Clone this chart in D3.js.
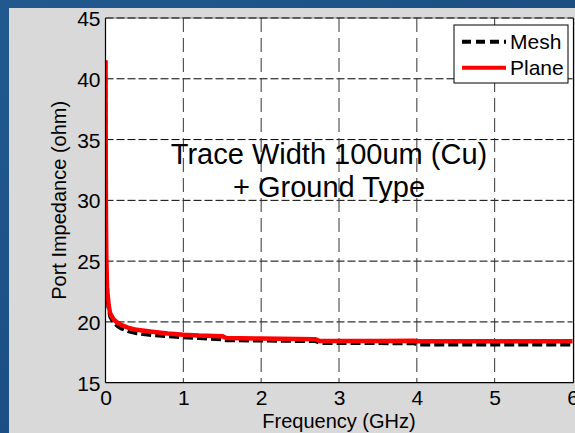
<!DOCTYPE html>
<html>
<head>
<meta charset="utf-8">
<script src="https://cdn.jsdelivr.net/npm/d3@7"></script>
<style>
  html, body { margin: 0; padding: 0; background: #1d5287; }
  svg { display: block; }
  text { font-family: "Liberation Sans", Arial, sans-serif; fill: #000; }
</style>
</head>
<body>
<svg id="chart" width="575" height="433"></svg>
<script>
// Port impedance vs frequency for two ground types
const freqMesh  = [0, 0.003, 0.006, 0.01, 0.02, 0.04, 0.06, 0.1, 0.15, 0.2, 0.3, 0.4, 0.6, 0.8, 1.0, 1.2, 1.5, 1.55, 2.0, 2.7, 2.75, 3.5, 3.97, 4.0, 5.0, 6.0];
const meshZ     = [41.5, 32, 27.5, 24.5, 22.0, 21.0, 20.4, 19.95, 19.65, 19.45, 19.2, 19.05, 18.9, 18.8, 18.72, 18.65, 18.55, 18.48, 18.45, 18.4, 18.25, 18.24, 18.22, 18.12, 18.12, 18.12];
const freqPlane = [0, 0.003, 0.006, 0.01, 0.02, 0.04, 0.06, 0.1, 0.15, 0.2, 0.3, 0.4, 0.6, 0.8, 1.0, 1.2, 1.5, 1.55, 2.0, 2.7, 2.75, 3.5, 3.97, 4.0, 5.0, 6.0];
const planeZ    = [41.5, 33, 28.5, 25.5, 22.8, 21.4, 20.7, 20.25, 19.95, 19.75, 19.5, 19.35, 19.2, 19.05, 18.95, 18.88, 18.83, 18.68, 18.63, 18.57, 18.43, 18.43, 18.45, 18.4, 18.4, 18.4];
const xTicks = [0, 1, 2, 3, 4, 5, 6];
const yTicks = [15, 20, 25, 30, 35, 40, 45];
const legendNames = ["Mesh", "Plane"];
const noteLines = ["Trace Width 100um (Cu)", "+ Ground Type"];

const svg = d3.select("#chart");
const W = 575, H = 433;

// textured blue backdrop
const defs = svg.append("defs");
const bg = defs.append("linearGradient").attr("id", "bg").attr("x1", 0).attr("y1", 0).attr("x2", 1).attr("y2", 1);
bg.append("stop").attr("offset", "0%").attr("stop-color", "#21598f");
bg.append("stop").attr("offset", "50%").attr("stop-color", "#1b4f84");
bg.append("stop").attr("offset", "100%").attr("stop-color", "#163f6e");
svg.append("rect").attr("width", W).attr("height", H).attr("fill", "url(#bg)");

// figure panel
svg.append("rect").attr("x", 9).attr("y", 8).attr("width", W - 9).attr("height", H - 8).attr("fill", "#d9d9d9");

const x = d3.scaleLinear().domain([0, 6]).range([105.5, 572.5]);
const y = d3.scaleLinear().domain([15, 45]).range([382.7, 18]);
const [x0, x1] = x.range();
const [yb, yt] = y.range();

// plot area
svg.append("rect").attr("x", x0).attr("y", yt).attr("width", x1 - x0 + 1).attr("height", yb - yt).attr("fill", "#fff");

defs.append("clipPath").attr("id", "plotClip")
  .append("rect").attr("x", x0).attr("y", yt).attr("width", x1 - x0 + 1).attr("height", yb - yt);

// dashed grid
const grid = svg.append("g");
grid.selectAll("line.h").data(yTicks.filter(v => v > 15 && v < 45)).join("line")
  .attr("x1", x0).attr("x2", x1).attr("y1", d => y(d)).attr("y2", d => y(d))
  .attr("stroke", "#000").attr("stroke-width", 1).attr("stroke-dasharray", "8,3");
grid.selectAll("line.v").data(xTicks.filter(v => v > 0 && v < 6)).join("line")
  .attr("x1", d => x(d)).attr("x2", d => x(d)).attr("y1", yt).attr("y2", yb)
  .attr("stroke", "#333").attr("stroke-width", 1).attr("stroke-dasharray", "14,6");

// curves
const line = d3.line().x(d => x(d[0])).y(d => y(d[1]));
const plot = svg.append("g").attr("clip-path", "url(#plotClip)");
plot.append("path").datum(freqMesh.map((f, i) => [f, meshZ[i]]))
  .attr("d", line).attr("fill", "none").attr("stroke", "#000")
  .attr("stroke-width", 3.5).attr("stroke-dasharray", "10,4");
plot.append("path").datum(freqPlane.map((f, i) => [f, planeZ[i]]))
  .attr("d", line).attr("fill", "none").attr("stroke", "#ff0000")
  .attr("stroke-width", 4.5).attr("stroke-linejoin", "round");

// axes box
const box = svg.append("g").attr("fill", "none").attr("stroke", "#000").attr("stroke-width", 1.2);
box.append("line").attr("x1", x0).attr("x2", x0).attr("y1", yt).attr("y2", yb);
box.append("line").attr("x1", x0).attr("x2", x1 + 1).attr("y1", yb).attr("y2", yb);
box.append("line").attr("x1", x1 + 1).attr("x2", x1 + 1).attr("y1", yt).attr("y2", yb);
svg.append("line").attr("x1", x0).attr("x2", x1 + 1).attr("y1", yt).attr("y2", yt)
  .attr("stroke", "#888").attr("stroke-width", 1);
svg.append("line").attr("x1", x0).attr("x2", x1 + 1).attr("y1", yt).attr("y2", yt)
  .attr("stroke", "#000").attr("stroke-width", 1).attr("stroke-dasharray", "8,3");

// tick labels via d3 axes
const xAxis = d3.axisBottom(x).tickValues(xTicks).tickFormat(d3.format("d")).tickSize(0).tickPadding(7);
const yAxis = d3.axisLeft(y).tickValues(yTicks).tickFormat(d3.format("d")).tickSize(0).tickPadding(5);
const gx = svg.append("g").attr("transform", `translate(0,${yb})`).call(xAxis);
const gy = svg.append("g").attr("transform", `translate(${x0},0)`).call(yAxis);
[gx, gy].forEach(g => {
  g.select(".domain").remove();
  g.selectAll("text").attr("font-family", "Liberation Sans, Arial, sans-serif").attr("font-size", 21).attr("fill", "#000");
});
gy.selectAll("text").attr("dy", "0.36em");

// axis titles
svg.append("text").attr("x", (x0 + x1) / 2).attr("y", 428).attr("text-anchor", "middle")
  .attr("font-size", 20).text("Frequency (GHz)");
svg.append("text").attr("transform", `translate(66,${(yt + yb) / 2}) rotate(-90)`)
  .attr("text-anchor", "middle").attr("font-size", 20).text("Port Impedance (ohm)");

// annotation
svg.append("g").selectAll("text").data(noteLines).join("text")
  .attr("x", 329).attr("y", (d, i) => 164 + i * 33).attr("text-anchor", "middle")
  .attr("font-size", 29).text(d => d);

// legend
const lg = svg.append("g");
lg.append("rect").attr("x", 454).attr("y", 25).attr("width", 114).attr("height", 58)
  .attr("fill", "#fff").attr("stroke", "#000").attr("stroke-width", 1);
const legendStyles = [
  { color: "#000", dash: "9,5", width: 4 },
  { color: "#ff0000", dash: null, width: 4 }
];
legendNames.forEach((name, i) => {
  const cy = 41.7 + i * 26;
  lg.append("line").attr("x1", 462).attr("x2", 506).attr("y1", cy).attr("y2", cy)
    .attr("stroke", legendStyles[i].color).attr("stroke-width", legendStyles[i].width)
    .attr("stroke-dasharray", legendStyles[i].dash);
  lg.append("text").attr("x", 510).attr("y", cy + 7).attr("font-size", 21).text(name);
});
</script>
</body>
</html>
